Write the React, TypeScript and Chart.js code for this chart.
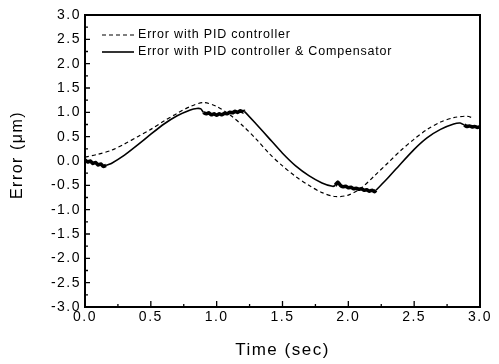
import React, { useEffect, useRef } from "react";
import { Chart, registerables } from "chart.js";

Chart.register(...registerables);

// ---- data ----
const pidTime = [0, 0.1, 0.2, 0.3, 0.4, 0.5, 0.6, 0.7, 0.8, 0.9, 1.0, 1.1, 1.2, 1.3, 1.4, 1.5, 1.6, 1.7, 1.8, 1.9, 2.0, 2.1, 2.2, 2.3, 2.4, 2.5, 2.6, 2.7, 2.8, 2.9, 2.95];
const pidError = [0.08, 0.14, 0.22, 0.35, 0.5, 0.65, 0.82, 0.98, 1.12, 1.2, 1.12, 0.95, 0.72, 0.45, 0.15, -0.1, -0.32, -0.5, -0.65, -0.73, -0.7, -0.55, -0.3, -0.04, 0.22, 0.45, 0.65, 0.8, 0.89, 0.92, 0.88];

const compTime = [
  0, 0.02, 0.04, 0.06, 0.08, 0.1, 0.12, 0.14, 0.16,
  0.2, 0.3, 0.4, 0.5, 0.6, 0.7, 0.8, 0.85, 0.88,
  0.9, 0.92, 0.94, 0.96, 0.98, 1.0, 1.02, 1.04, 1.06, 1.08, 1.1, 1.12, 1.14, 1.16, 1.18, 1.2, 1.21,
  1.3, 1.4, 1.5, 1.6, 1.7, 1.8, 1.88,
  1.9, 1.92, 1.94, 1.96, 1.98, 2.0, 2.02, 2.04, 2.06, 2.08, 2.1, 2.12, 2.14, 2.16, 2.18, 2.2, 2.21,
  2.3, 2.4, 2.5, 2.6, 2.7, 2.8, 2.85, 2.88,
  2.9, 2.92, 2.94, 2.96, 2.98, 3.0,
];
const compError = [
  0.02, -0.02, 0.0, -0.05, -0.03, -0.08, -0.06, -0.11, -0.09,
  -0.05, 0.12, 0.33, 0.55, 0.76, 0.93, 1.05, 1.08, 1.07,
  1.0, 0.97, 0.99, 0.95, 0.97, 0.94, 0.97, 0.95, 0.98, 0.97, 1.0, 0.99, 1.02, 1.0, 1.03, 1.01, 1.02,
  0.76, 0.46, 0.16, -0.1, -0.3, -0.45, -0.52,
  -0.5, -0.43, -0.5, -0.53, -0.52, -0.55, -0.54, -0.57, -0.56, -0.58, -0.57, -0.6, -0.59, -0.62, -0.6, -0.63, -0.6,
  -0.35, -0.05, 0.24, 0.48, 0.65, 0.76, 0.78, 0.74,
  0.71, 0.72, 0.7, 0.71, 0.69, 0.7,
];
// time ranges where the compensated error trace is noisy (drawn as a thick band)
const noiseBands = [
  [0, 0.16],
  [0.9, 1.21],
  [1.9, 2.21],
  [2.88, 3.0],
];

const seriesLabels = ["Error with PID controller", "Error with PID controller & Compensator"];
const xTitle = "Time (sec)";
const yTitle = "Error (\u03bcm)";
const xRange = [0, 3];
const yRange = [-3, 3];
const tickStep = 0.5;
const minorStep = 0.25;

const FONT = "'Liberation Sans', Arial, Helvetica, sans-serif";

const inNoise = (t: number) => noiseBands.some(([a, b]) => t >= a - 1e-9 && t <= b + 1e-9);

export default function App() {
  const ref = useRef<HTMLCanvasElement>(null);

  useEffect(() => {
    const canvas = ref.current;
    if (!canvas) return;

    const spacingPlugin = {
      id: "spacing",
      beforeLayout(chart: any) {
        chart.ctx.letterSpacing = "1.5px";
      },
      beforeDraw(chart: any) {
        chart.ctx.letterSpacing = "1.5px";
      },
    };

    const framePlugin = {
      id: "frame",
      afterDraw(chart: any) {
        const { ctx, chartArea, scales } = chart;
        const { left, right, top, bottom } = chartArea;
        const xs = scales.x;
        const ys = scales.y;
        ctx.save();
        ctx.strokeStyle = "#000";
        ctx.lineWidth = 1.3;
        ctx.setLineDash([]);
        ctx.beginPath();
        const nx = Math.round((xRange[1] - xRange[0]) / minorStep);
        for (let i = 0; i <= nx; i++) {
          const v = xRange[0] + i * minorStep;
          const px = xs.getPixelForValue(v);
          const len = i % 2 === 0 ? 6 : 3;
          ctx.moveTo(px, bottom);
          ctx.lineTo(px, bottom - len);
        }
        const ny = Math.round((yRange[1] - yRange[0]) / minorStep);
        for (let i = 0; i <= ny; i++) {
          const v = yRange[0] + i * minorStep;
          const py = ys.getPixelForValue(v);
          const len = i % 2 === 0 ? 5 : 3;
          ctx.moveTo(left, py);
          ctx.lineTo(left + len, py);
        }
        ctx.stroke();
        ctx.lineWidth = 2;
        ctx.strokeRect(left, top, right - left, bottom - top);

        // y-axis title
        ctx.letterSpacing = "1.5px";
        ctx.font = `16px ${FONT}`;
        ctx.fillStyle = "#000";
        ctx.textAlign = "center";
        ctx.textBaseline = "middle";
        ctx.translate(18, (top + bottom) / 2 - 6);
        ctx.rotate(-Math.PI / 2);
        ctx.fillText(yTitle, 0, 0);
        ctx.restore();
      },
    };

    const legendPlugin = {
      id: "customLegend",
      afterDatasetsDraw(chart: any) {
        const { ctx, chartArea } = chart;
        const { left, top } = chartArea;
        ctx.save();
        ctx.letterSpacing = "0.8px";
        ctx.font = `12.5px ${FONT}`;
        ctx.fillStyle = "#000";
        ctx.textBaseline = "middle";
        ctx.textAlign = "left";
        chart.data.datasets.forEach((ds: any, i: number) => {
          const y = top + 20 + i * 17;
          ctx.strokeStyle = "#000";
          ctx.lineWidth = ds.borderWidth;
          ctx.setLineDash(ds.borderDash || []);
          ctx.beginPath();
          ctx.moveTo(left + 17, y);
          ctx.lineTo(left + 49, y);
          ctx.stroke();
          ctx.fillText(ds.label, left + 53, y);
        });
        ctx.restore();
      },
    };

    const chart = new Chart(canvas, {
      type: "line",
      data: {
        datasets: [
          {
            label: seriesLabels[0],
            data: pidTime.map((t, i) => ({ x: t, y: pidError[i] })),
            borderColor: "#000",
            borderWidth: 1.2,
            borderDash: [4, 3],
            pointRadius: 0,
            tension: 0.3,
            fill: false,
          },
          {
            label: seriesLabels[1],
            data: compTime.map((t, i) => ({ x: t, y: compError[i] })),
            borderColor: "#000",
            borderWidth: 1.6,
            pointRadius: 0,
            tension: 0.15,
            fill: false,
            segment: {
              borderWidth: (c: any) =>
                inNoise(c.p0.parsed.x) && inNoise(c.p1.parsed.x) ? 3.6 : 1.6,
            },
          },
        ],
      },
      options: {
        responsive: false,
        animation: false,
        layout: { padding: { left: 0, top: 15, right: 19, bottom: 0 } },
        plugins: { legend: { display: false }, tooltip: { enabled: false } },
        scales: {
          x: {
            type: "linear",
            min: xRange[0],
            max: xRange[1],
            afterFit: (s: any) => {
              s.height = 57;
            },
            grid: { display: false, drawTicks: false },
            border: { display: false },
            ticks: {
              stepSize: tickStep,
              padding: 2,
              color: "#000",
              font: { family: FONT, size: 14 },
              callback: (v: any) => Number(v).toFixed(1),
              maxRotation: 0,
            },
            title: {
              display: true,
              text: xTitle,
              color: "#000",
              font: { family: FONT, size: 17 },
              padding: { top: 0, bottom: 3 },
            },
          },
          y: {
            type: "linear",
            min: yRange[0],
            max: yRange[1],
            afterFit: (s: any) => {
              s.width = 85;
            },
            grid: { display: false, drawTicks: false },
            border: { display: false },
            ticks: {
              stepSize: tickStep,
              padding: 4,
              color: "#000",
              font: { family: FONT, size: 14 },
              callback: (v: any) => Number(v).toFixed(1),
            },
            title: { display: false },
          },
        },
      },
      plugins: [spacingPlugin, framePlugin, legendPlugin],
    });

    return () => chart.destroy();
  }, []);

  return (
    <div style={{ position: "fixed", left: 0, top: 0, width: 499, height: 364, background: "#fff" }}>
      <canvas ref={ref} width={499} height={364} style={{ display: "block" }} />
    </div>
  );
}
